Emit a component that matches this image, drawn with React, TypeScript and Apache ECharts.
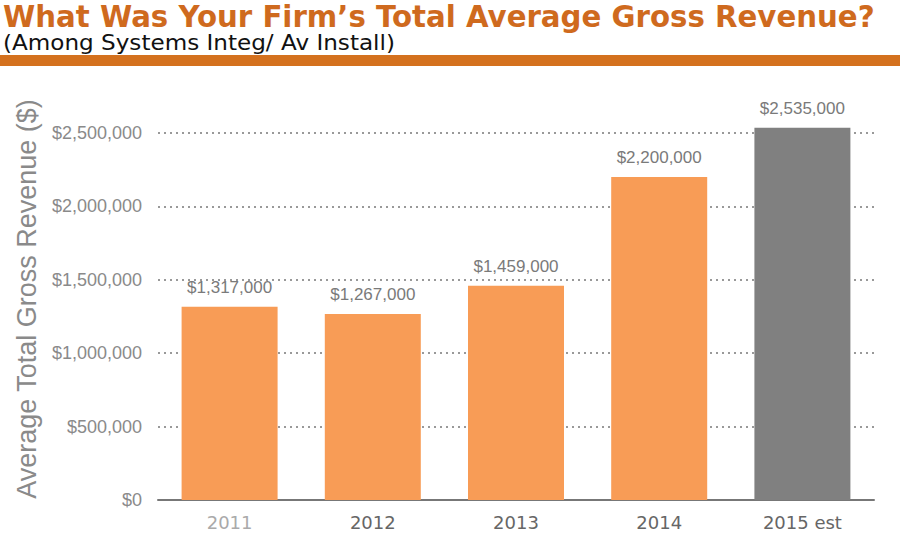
import React, { useEffect, useRef } from "react";
import * as echarts from "echarts";

const categories = ["2011", "2012", "2013", "2014", "2015 est"];
const revenue = [1317000, 1267000, 1459000, 2200000, 2535000];
const barColors = ["#F89C56", "#F89C56", "#F89C56", "#F89C56", "#808080"];
const categoryLabelColors = ["#AAAAAA", "#666666", "#666666", "#666666", "#666666"];
const yTicks = [0, 500000, 1000000, 1500000, 2000000, 2500000];

const fmt = (v: number) => "$" + v.toLocaleString("en-US");

export default function App() {
  const ref = useRef<HTMLDivElement>(null);
  useEffect(() => {
    if (!ref.current) return;
    const chart = echarts.init(ref.current, undefined, { renderer: "svg" });
    chart.setOption({
      animation: false,
      backgroundColor: "#FFFFFF",
      graphic: [
        {
          type: "text",
          x: 3,
          y: 2,
          scaleX: 0.975,
          style: {
            text: "What Was Your Firm\u2019s Total Average Gross Revenue?",
            fontFamily: "DejaVu Sans, sans-serif",
            fontWeight: "bold",
            fontSize: 30,
            lineHeight: 30,
            fill: "#CF6A1E",
          },
        },
        {
          type: "text",
          x: 3,
          y: 32,
          scaleX: 1.1,
          style: {
            text: "(Among Systems Integ/ Av Install)",
            fontFamily: "DejaVu Sans, sans-serif",
            fontSize: 21,
            lineHeight: 22,
            fill: "#111111",
          },
        },
        {
          type: "rect",
          left: 0,
          top: 55,
          shape: { width: 900, height: 11 },
          style: { fill: "#D4711E" },
        },
        {
          type: "text",
          x: 27,
          y: 299,
          rotation: Math.PI / 2,
          style: {
            text: "Average Total Gross Revenue ($)",
            fontFamily: "Liberation Sans, Arial, sans-serif",
            fontSize: 27,
            fill: "#8A8A8A",
            align: "center",
            verticalAlign: "middle",
          },
        },
      ],
      grid: { left: 158, right: 26, top: 133, bottom: 50 },
      xAxis: {
        type: "category",
        data: categories,
        axisLine: { lineStyle: { color: "#777777", width: 2 } },
        axisTick: { show: false },
        axisLabel: {
          margin: 13,
          fontSize: 18,
          fontFamily: "DejaVu Sans, sans-serif",
          color: (_v: string, i: number) => categoryLabelColors[i],
        },
      },
      yAxis: {
        type: "value",
        min: yTicks[0],
        max: yTicks[yTicks.length - 1],
        interval: 500000,
        axisLine: { show: false },
        axisTick: { show: false },
        axisLabel: {
          margin: 16,
          fontSize: 18,
          color: "#8A8A8A",
          fontFamily: "Liberation Sans, Arial, sans-serif",
          formatter: (v: number) => fmt(v),
        },
        splitLine: {
          lineStyle: { color: "#999999", type: [2, 4], width: 2 },
        },
      },
      series: [
        {
          type: "bar",
          clip: false,
          barWidth: 96,
          data: revenue.map((v, i) => ({ value: v, itemStyle: { color: barColors[i] } })),
          label: {
            show: true,
            position: "top",
            distance: 11,
            fontSize: 17,
            color: "#7A7A7A",
            fontFamily: "Liberation Sans, Arial, sans-serif",
            formatter: (p: any) => fmt(p.value),
          },
        },
      ],
    });
    return () => chart.dispose();
  }, []);
  return <div ref={ref} style={{ width: 900, height: 550, position: "absolute", left: 0, top: 0 }} />;
}
